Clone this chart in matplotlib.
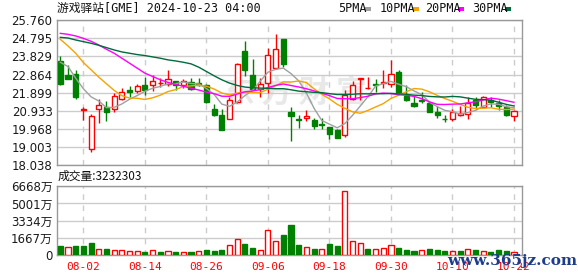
import matplotlib
matplotlib.use('Agg')
import matplotlib.pyplot as plt
from matplotlib.patches import Rectangle

# 游戏驿站 GME 日K线 (2024-07-30 ~ 2024-10-22)
dates = ['07-30', '07-31', '08-01', '08-02', '08-05', '08-06', '08-07', '08-08', '08-09', '08-12',
         '08-13', '08-14', '08-15', '08-16', '08-19', '08-20', '08-21', '08-22', '08-23', '08-26',
         '08-27', '08-28', '08-29', '08-30', '09-03', '09-04', '09-05', '09-06', '09-09', '09-10',
         '09-11', '09-12', '09-13', '09-16', '09-17', '09-18', '09-19', '09-20', '09-23', '09-24',
         '09-25', '09-26', '09-27', '09-30', '10-01', '10-02', '10-03', '10-04', '10-07', '10-08',
         '10-09', '10-10', '10-11', '10-14', '10-15', '10-16', '10-17', '10-18', '10-21', '10-22']

opens = [23.612, 22.852, 22.905, 21.000, 18.879, 21.033, 21.139, 21.033, 21.563, 22.022,
         21.969, 22.322, 22.305, 22.393, 22.358, 22.499, 22.287, 22.464, 22.411, 22.287,
         21.033, 20.698, 20.521, 21.387, 24.124, 22.852, 22.093, 22.411, 23.241, 24.759,
         20.857, 20.504, 20.539, 20.468, 20.256, 20.062, 19.886, 19.638, 21.581, 22.623,
         22.128, 22.375, 22.411, 22.375, 22.976, 21.740, 21.351, 21.510, 21.351, 20.892,
         20.521, 20.486, 20.698, 20.751, 21.493, 21.139, 21.528, 21.351, 21.139, 20.645]
highs = [23.859, 23.382, 23.082, 21.139, 20.769, 21.563, 21.475, 21.899, 22.146, 22.234,
         22.376, 22.729, 22.817, 22.676, 23.117, 22.534, 22.623, 22.676, 22.676, 22.376,
         21.298, 21.033, 21.669, 23.488, 24.653, 23.682, 22.676, 24.300, 25.007, 24.759,
         21.122, 20.733, 20.963, 20.539, 20.557, 20.080, 19.941, 22.022, 22.534, 22.676,
         22.711, 22.623, 23.117, 23.647, 23.117, 22.322, 21.740, 21.916, 21.457, 21.210,
         20.733, 21.033, 21.210, 21.669, 21.669, 21.740, 21.669, 21.528, 21.245, 20.998]
lows = [22.322, 22.623, 21.581, 20.433, 18.755, 20.292, 20.380, 20.857, 21.528, 21.651,
        21.881, 21.793, 21.987, 22.181, 22.234, 22.058, 22.146, 22.058, 22.270, 21.351,
        20.680, 19.886, 20.504, 21.351, 22.799, 22.058, 21.669, 21.881, 23.153, 23.258,
        19.338, 20.009, 20.380, 19.941, 19.941, 19.444, 19.462, 19.532, 21.528, 21.528,
        22.093, 21.916, 22.146, 22.199, 21.881, 21.440, 21.139, 21.351, 20.857, 20.539,
        20.327, 20.380, 20.680, 20.504, 21.033, 21.139, 21.139, 20.998, 20.680, 20.415]
closes = [22.375, 22.640, 21.669, 21.033, 20.680, 21.263, 20.874, 21.740, 21.934, 21.934,
          22.252, 22.022, 22.534, 22.429, 22.623, 22.287, 22.499, 22.111, 22.322, 21.387,
          20.733, 19.903, 21.528, 23.435, 23.117, 22.111, 22.375, 23.912, 24.212, 23.435,
          20.645, 20.468, 20.680, 20.115, 20.186, 19.674, 19.497, 21.793, 22.305, 22.658,
          22.164, 22.322, 22.464, 22.888, 21.916, 21.493, 21.210, 21.475, 20.892, 20.733,
          20.486, 20.857, 20.822, 21.351, 21.245, 21.669, 21.422, 21.210, 20.698, 20.945]
# 成交量, 单位: 万股
volumes = [874, 745, 874, 874, 1198, 550, 583, 486, 486, 421,
           388, 324, 486, 324, 388, 291, 291, 291, 400, 486,
           388, 486, 939, 1521, 1068, 680, 453, 2395, 1360, 1942,
           2913, 971, 745, 583, 550, 1068, 874, 6183, 1360, 1133,
           583, 550, 647, 939, 680, 486, 421, 486, 583, 486,
           388, 388, 388, 550, 486, 388, 291, 486, 388, 323]

ma5 = [23.520, 23.290, 22.675, 22.110, 21.679, 21.457, 21.104, 21.118, 21.298, 21.549,
       21.747, 21.976, 22.135, 22.234, 22.372, 22.379, 22.474, 22.390, 22.368, 22.121,
       21.810, 21.291, 21.175, 21.397, 21.743, 22.019, 22.513, 22.990, 23.145, 23.209,
       22.916, 22.534, 21.888, 21.069, 20.419, 20.225, 20.030, 20.253, 20.691, 21.185,
       21.683, 22.248, 22.383, 22.499, 22.351, 22.217, 21.994, 21.796, 21.397, 21.161,
       20.959, 20.889, 20.758, 20.850, 20.952, 21.189, 21.302, 21.282, 21.151, 21.091]
ma10 = [24.742, 24.389, 24.000, 23.506, 23.117, 22.729, 22.376, 22.022, 21.740, 21.614,
        21.602, 21.540, 21.627, 21.766, 21.961, 22.063, 22.225, 22.263, 22.301, 22.247,
        22.095, 21.883, 21.782, 21.883, 21.932, 21.915, 21.902, 22.082, 22.271, 22.476,
        22.467, 22.524, 22.439, 22.107, 21.814, 21.570, 21.282, 21.071, 20.880, 20.802,
        20.954, 21.139, 21.318, 21.595, 21.768, 21.950, 22.121, 22.090, 21.948, 21.756,
        21.588, 21.441, 21.277, 21.124, 21.056, 21.074, 21.095, 21.020, 21.001, 21.022]
ma20 = [25.060, 25.007, 24.920, 24.795, 24.636, 24.440, 24.212, 24.000, 23.735, 23.470,
        23.205, 22.940, 22.764, 22.587, 22.450, 22.340, 22.240, 22.140, 22.040, 21.931,
        21.849, 21.712, 21.705, 21.825, 21.947, 21.989, 22.064, 22.173, 22.286, 22.362,
        22.281, 22.204, 22.111, 21.995, 21.873, 21.743, 21.592, 21.577, 21.576, 21.639,
        21.711, 21.832, 21.879, 21.851, 21.791, 21.760, 21.702, 21.581, 21.414, 21.279,
        21.271, 21.290, 21.298, 21.360, 21.412, 21.512, 21.608, 21.555, 21.475, 21.389]
ma30 = [24.848, 24.812, 24.706, 24.618, 24.530, 24.424, 24.300, 24.177, 24.071, 24.000,
        23.930, 23.877, 23.806, 23.735, 23.647, 23.590, 23.520, 23.435, 23.258, 23.029,
        22.799, 22.587, 22.411, 22.287, 22.199, 22.164, 22.146, 22.128, 22.111, 22.112,
        22.055, 21.982, 21.949, 21.919, 21.902, 21.849, 21.803, 21.805, 21.817, 21.842,
        21.839, 21.849, 21.846, 21.862, 21.838, 21.812, 21.768, 21.748, 21.700, 21.678,
        21.670, 21.701, 21.678, 21.609, 21.546, 21.531, 21.499, 21.394, 21.276, 21.193]

price_ticks = [25.760, 24.795, 23.829, 22.864, 21.899, 20.933, 19.968, 19.003, 18.038]
vol_ticks = [0, 1667, 3334, 5001, 6668]
ma_names = ['5PMA', '10PMA', '20PMA', '30PMA']
ma_colors = ['#a0a0a0', '#f5a300', '#ff00ff', '#006b3c']

RED = '#ff0000'
GREEN = '#008000'
W, H = 578, 276

fig = plt.figure(figsize=(W / 100, H / 100), dpi=100)

def fx(x):
    return x / W

def fy(y):
    return 1 - y / H

ax = fig.add_axes([fx(56.7), fy(165.2), fx(522.3) - fx(56.7), fy(20.2) - fy(165.2)])
axv = fig.add_axes([fx(56.7), fy(255), fx(522.3) - fx(56.7), fy(186.3) - fy(255)])

n = len(dates)
xs = list(range(n))
tick_pos = [i for i in xs if (i - 3) % 8 == 0]
tick_lab = [dates[i] for i in tick_pos]

# K线
bw = 0.66
for i in xs:
    o, h, l, c = opens[i], highs[i], lows[i], closes[i]
    up = c >= o
    col = RED if up else GREEN
    ax.vlines(i, l, h, color=col, lw=1, zorder=3)
    ax.bar(i, abs(c - o), bottom=min(o, c), width=bw, color='white' if up else col,
           edgecolor=col, lw=1, zorder=4)

for vals, col in zip([ma5, ma10, ma20, ma30], ma_colors):
    ax.plot(xs, vals, color=col, lw=1, zorder=5)

# 成交量
for i in xs:
    up = i > 0 and closes[i] >= closes[i - 1]
    col = RED if up else GREEN
    axv.bar(i, volumes[i], width=bw, color='white' if up else col, edgecolor=col, lw=1, zorder=3)

for a in (ax, axv):
    a.set_xlim(-0.47, 60.08)
    a.set_xticks(tick_pos)
    a.grid(axis='x', color='#cccccc', lw=1, linestyle=(0, (4, 4)), zorder=0)
    a.grid(axis='y', color='#cccccc', lw=1, zorder=0)
    for s in a.spines.values():
        s.set_color('#999999')
        s.set_linewidth(1)
    a.tick_params(length=0, labelsize=8.5, labelcolor='#1a1a1a', pad=3)

ax.set_ylim(price_ticks[-1], price_ticks[0])
ax.set_yticks(price_ticks)
ax.set_yticklabels(['%.3f' % p for p in price_ticks], family='DejaVu Sans')
ax.set_xticklabels([])

axv.set_ylim(0, vol_ticks[-1])
axv.set_yticks(vol_ticks)
axv.set_yticklabels(['0' if v == 0 else '%d万' % v for v in vol_ticks],
                    family=['DejaVu Sans', 'Noto Sans CJK SC'])
axv.set_xticklabels(tick_lab, family='DejaVu Sans Mono', color=RED, fontsize=8)
axv.tick_params(axis='x', pad=5, labelcolor=RED)

# 水印
ax.text(30.5, 21.9, '东 方 财 富', fontsize=22, color='#e8e8e8', ha='center', va='center',
        family=['Noto Sans CJK SC'], fontweight='bold', zorder=1)

# 标题与图例
fig.text(fx(57), fy(8.5), '游戏驿站[GME] 2024-10-23 04:00', fontsize=8.5, va='center',
         family=['DejaVu Sans Mono', 'Noto Sans CJK SC'], color='#111111')
leg_x = [338, 380, 425, 472]
for name, col, x0 in zip(ma_names, ma_colors, leg_x):
    fig.text(fx(x0), fy(8.5), name, fontsize=8.5, va='center',
             family='DejaVu Sans Mono', color='#111111')
    sq_x = x0 + 5.9 * len(name) + 3
    fig.add_artist(Rectangle((fx(sq_x), fy(10.5)), 6 / W, 3.5 / H,
                             transform=fig.transFigure, color=col, lw=0))

fig.text(fx(58), fy(176.5), '成交量:3232303', fontsize=8.5, va='center',
         family=['Noto Sans CJK SC', 'DejaVu Sans'], color='#111111')

fig.text(fx(512), fy(261), 'www.365jz.com', fontsize=11, va='center', ha='center',
         family='DejaVu Serif', fontweight='bold', color='#1d3c8c')

fig.savefig('out.png', dpi=100)
